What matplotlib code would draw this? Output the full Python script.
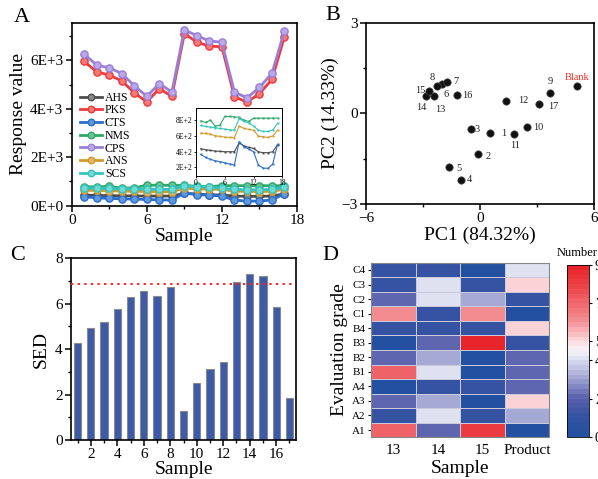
import numpy as np
import matplotlib
matplotlib.use('Agg')
import matplotlib.pyplot as plt
from matplotlib.colors import LinearSegmentedColormap
from matplotlib.ticker import MultipleLocator, FixedLocator, FuncFormatter

plt.rcParams['font.family'] = ['Liberation Serif', 'DejaVu Serif']
plt.rcParams['mathtext.fontset'] = 'stix'

# ---------------- data ----------------
samples = np.arange(1, 18)
AHS = [436, 424, 415, 407, 403, 398, 398, 398, 512, 474, 453, 441, 398, 386, 386, 398, 487]
PKS = [5950, 5520, 5390, 5150, 4660, 4280, 4830, 4510, 7100, 6750, 6580, 6560, 4500, 4270, 4620, 5210, 6980]
CTS = [364, 326, 301, 284, 271, 259, 242, 229, 525, 462, 432, 398, 229, 191, 187, 242, 491]
NMS = [790, 770, 800, 724, 737, 846, 846, 842, 835, 800, 783, 825, 825, 825, 825, 825, 825]
CPS = [6250, 5800, 5690, 5450, 4950, 4510, 5040, 4690, 7260, 7010, 6800, 6740, 4690, 4450, 4880, 5460, 7220]
ANS = [635, 631, 622, 601, 593, 584, 580, 576, 724, 694, 682, 673, 597, 589, 580, 597, 673]
SCS = [732, 720, 711, 703, 694, 686, 677, 673, 821, 783, 766, 724, 673, 656, 656, 673, 758]

pca_labels = ['1', '2', '3', '4', '5', '6', '7', '8', '9', '10', '11', '12', '13', '14', '15', '16', '17', 'Blank']
PC1 = [0.53, -0.12, -0.48, -1.00, -1.62, -2.02, -1.76, -2.24, 3.70, 2.45, 1.80, 1.39, -2.43, -2.82, -2.69, -1.23, 3.10, 5.10]
PC2 = [-0.66, -1.35, -0.52, -2.20, -1.79, 0.96, 1.05, 0.89, 0.69, -0.46, -0.68, 0.41, 0.56, 0.58, 0.75, 0.62, 0.30, 0.92]

SED = [4.26, 4.92, 5.18, 5.77, 6.30, 6.58, 6.36, 6.75, 1.28, 2.51, 3.11, 3.45, 6.94, 7.33, 7.22, 5.84, 1.85]
SED_threshold = 6.88

grades = ['A1', 'A2', 'A3', 'A4', 'B1', 'B2', 'B3', 'B4', 'C1', 'C2', 'C3', 'C4']
heat_cols = ['13', '14', '15', 'Product']
s13 = [7, 1, 2, 0, 7, 2, 0, 1, 6, 2, 1, 1]
s14 = [2, 4, 3, 1, 4, 3, 2, 1, 1, 4, 4, 1]
s15 = [8, 1, 0, 1, 0, 0, 9, 1, 6, 3, 1, 0]
sprod = [0, 3, 5, 2, 2, 2, 1, 5, 0, 1, 5, 4]

# ---------------- figure ----------------
W, H = 598, 479
fig = plt.figure(figsize=(W / 100, H / 100), dpi=100)

def ax_px(l, t, r, b):
    return [l / W, 1 - b / H, (r - l) / W, (b - t) / H]

TICK_FS = 11
LAB_FS = 14

def style_axes(ax, lw=1.2):
    for s in ax.spines.values():
        s.set_linewidth(lw)
    ax.tick_params(which='major', direction='out', length=4, width=1.1, labelsize=TICK_FS, pad=2)
    ax.tick_params(which='minor', direction='out', length=2.5, width=1.0)

# ---------------- Panel A ----------------
axA = fig.add_axes(ax_px(71.7, 22.7, 297, 205.7))
series = [('AHS', AHS, '#4d4d4d'), ('PKS', PKS, '#ee3a3a'), ('CTS', CTS, '#2b6fcb'),
          ('NMS', NMS, '#2fa86a'), ('CPS', CPS, '#9a7fd8'), ('ANS', ANS, '#d39a2b'),
          ('SCS', SCS, '#35c3bd')]
lighter = {'AHS': '#8a8a8a', 'PKS': '#f37a7a', 'CTS': '#5f97dd', 'NMS': '#68c495',
           'CPS': '#bba8e6', 'ANS': '#e2b86a', 'SCS': '#72d8d3'}
for name, vals, c in series:
    axA.plot(samples, vals, '-o', color=c, lw=2.0, ms=5.2, mfc=lighter[name], mec=c, mew=1.0,
             label=name)
axA.set_xlim(0, 18)
axA.set_ylim(0, 7550)
axA.xaxis.set_major_locator(MultipleLocator(6))
axA.xaxis.set_minor_locator(MultipleLocator(3))
axA.yaxis.set_major_locator(MultipleLocator(2000))
axA.yaxis.set_minor_locator(MultipleLocator(1000))
axA.yaxis.set_major_formatter(FuncFormatter(lambda v, p: '0E+0' if v == 0 else '%dE+3' % int(round(v / 1000))))
style_axes(axA)
axA.set_xlabel('Sample', fontsize=LAB_FS, labelpad=1)
axA.set_ylabel('Response value', fontsize=LAB_FS, labelpad=2)
axA.legend(loc='upper left', bbox_to_anchor=(0.0, 0.668), frameon=False, fontsize=8.5,
           labelspacing=0.06, handlelength=1.9, handletextpad=0.2, borderaxespad=0.3,
           markerscale=0.9)

# inset
axI = fig.add_axes(ax_px(196, 108.3, 282.3, 176))
for name, vals, c in series:
    if name in ('PKS', 'CPS'):
        continue
    axI.plot(samples, vals, '-s', color=c, lw=0.8, ms=1.4, mew=0)
axI.set_xlim(0, 18)
axI.set_ylim(90, 950)
axI.xaxis.set_major_locator(MultipleLocator(6))
axI.yaxis.set_major_locator(FixedLocator([200, 400, 600, 800]))
axI.yaxis.set_major_formatter(FuncFormatter(lambda v, p: '%dE+2' % int(round(v / 100))))
for s in axI.spines.values():
    s.set_linewidth(0.7)
axI.tick_params(direction='out', length=1.5, width=0.6, labelsize=5.5, pad=1)

# ---------------- Panel B ----------------
axB = fig.add_axes(ax_px(366, 22.7, 594, 204))
axB.scatter(PC1, PC2, s=28, c='#111111', edgecolors='#444444', linewidths=0.5, zorder=3)
offsets = {'1': (14, 0), '2': (10, -2), '3': (6, 0), '4': (8, 0), '5': (10, -1),
           '6': (5, -10), '7': (9, 0), '8': (-5, 9), '9': (0, 11), '10': (12, 0),
           '11': (1, -12), '12': (17, 0), '13': (6, -13), '14': (-5, -12),
           '15': (-9, 0), '16': (11, -1), '17': (14, -2), 'Blank': (0, 8)}
for lab, x, y in zip(pca_labels, PC1, PC2):
    dx, dy = offsets[lab]
    axB.annotate(lab, (x, y), xytext=(dx, dy), textcoords='offset pixels',
                 ha='center', va='center', fontsize=7.5,
                 color='#e8302a' if lab == 'Blank' else '#222222')
axB.set_xlim(-6, 6)
axB.set_ylim(-3, 3)
axB.xaxis.set_major_locator(MultipleLocator(6))
axB.xaxis.set_minor_locator(MultipleLocator(3))
axB.yaxis.set_major_locator(MultipleLocator(3))
axB.yaxis.set_minor_locator(MultipleLocator(1.5))
style_axes(axB)
axB.set_xlabel('PC1 (84.32%)', fontsize=LAB_FS, labelpad=1)
axB.set_ylabel('PC2 (14.33%)', fontsize=LAB_FS, labelpad=2)

# ---------------- Panel C ----------------
axC = fig.add_axes(ax_px(71, 258.3, 296, 440))
axC.bar(samples, SED, width=0.55, color='#3c5aa7', edgecolor='#8a8a8a', linewidth=0.8, zorder=2)
axC.axhline(SED_threshold, color='#ff2020', ls=(0, (1.2, 2.2)), lw=1.4, zorder=3)
axC.set_xlim(0.5, 17.5)
axC.set_ylim(0, 8)
axC.xaxis.set_major_locator(FixedLocator([2, 4, 6, 8, 10, 12, 14, 16]))
axC.xaxis.set_minor_locator(FixedLocator([1, 3, 5, 7, 9, 11, 13, 15, 17]))
axC.yaxis.set_major_locator(MultipleLocator(2))
axC.yaxis.set_minor_locator(MultipleLocator(1))
style_axes(axC)
axC.set_xlabel('Sample', fontsize=LAB_FS, labelpad=0)
axC.set_ylabel('SED', fontsize=LAB_FS, labelpad=4)

# ---------------- Panel D ----------------
axD = fig.add_axes(ax_px(371, 262.7, 549.3, 437.3))
heat = np.array([s13, s14, s15, sprod]).T
cmap = LinearSegmentedColormap.from_list(
    'bwr_custom',
    [(0.0, '#2350a0'), (0.111, '#3553a3'), (0.222, '#5a62ae'), (0.333, '#a0a4d2'),
     (0.444, '#d8dbee'), (0.5, '#f5f3f8'), (0.556, '#fcdde1'), (0.667, '#f49397'),
     (0.778, '#f06a70'), (0.889, '#ec4248'), (1.0, '#e8252a')], N=36)
mesh = axD.pcolormesh(np.arange(5) - 0.5, np.arange(13) - 0.5, heat, cmap=cmap, vmin=0, vmax=9,
                      edgecolors='#c9cadc', linewidth=0.5)
axD.set_xlim(-0.5, 3.5)
axD.set_ylim(-0.5, 11.5)
axD.set_xticks(range(4))
axD.set_xticklabels(heat_cols, fontsize=11)
axD.set_yticks(range(12))
axD.set_yticklabels(grades, fontsize=8)
for s in axD.spines.values():
    s.set_linewidth(0.8)
    s.set_color('#888888')
axD.tick_params(axis='x', length=0, pad=5)
axD.tick_params(axis='y', length=2.5, width=0.8, pad=1.5)
axD.set_xlabel('Sample', fontsize=LAB_FS, labelpad=2)
axD.set_ylabel('Evaluation grade', fontsize=LAB_FS, labelpad=3)

cax = fig.add_axes(ax_px(566.7, 265, 588.7, 436.7))
cb = fig.colorbar(mesh, cax=cax)
cb.set_ticks([0, 2, 4, 5, 7, 9])
cb.ax.tick_params(labelsize=10, length=2.5, width=0.8, pad=2)
cb.outline.set_linewidth(0.6)
fig.text(557 / W, 1 - 253 / H, 'Number', fontsize=9, ha='left', va='center')

# panel letters
for lab, x, y in [('A', 22, 18), ('B', 333, 16), ('C', 18, 255), ('D', 330, 255)]:
    fig.text(x / W, 1 - y / H, lab, fontsize=16, ha='center', va='center')

fig.savefig('out.png', dpi=100)
